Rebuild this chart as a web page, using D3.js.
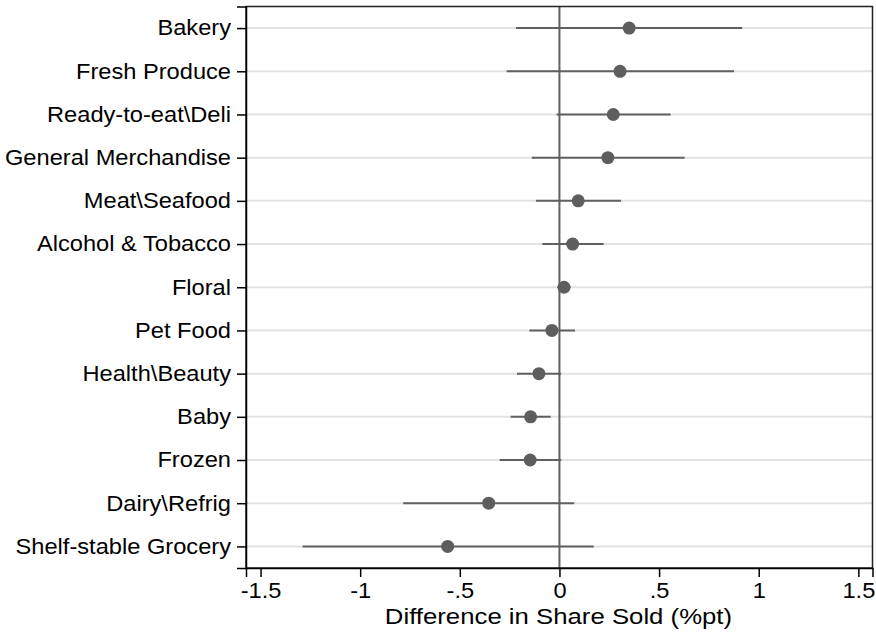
<!DOCTYPE html>
<html>
<head>
<meta charset="utf-8">
<script src="https://cdn.jsdelivr.net/npm/d3@7"></script>
<style>
  body { margin: 0; background: #fff; }
  svg { font-family: Arial, "Liberation Sans", sans-serif; }
</style>
</head>
<body>
<script>
// categories top to bottom
const categories = ['Bakery', 'Fresh Produce', 'Ready-to-eat\\Deli', 'General Merchandise',
  'Meat\\Seafood', 'Alcohol & Tobacco', 'Floral', 'Pet Food', 'Health\\Beauty',
  'Baby', 'Frozen', 'Dairy\\Refrig', 'Shelf-stable Grocery']
// point estimates
const estimates = [0.350, 0.304, 0.270, 0.243, 0.094, 0.066, 0.023, -0.038, -0.103, -0.145, -0.147, -0.355, -0.561]
// confidence interval ends
const lower = [-0.218, -0.265, -0.014, -0.139, -0.118, -0.086, -0.011, -0.151, -0.213, -0.245, -0.300, -0.784, -1.289]
const upper = [0.917, 0.876, 0.558, 0.628, 0.309, 0.222, 0.055, 0.078, 0.008, -0.044, 0.009, 0.074, 0.172]
// x ticks
const xTicks = [-1.5, -1, -0.5, 0, 0.5, 1, 1.5]
const xTickLabels = ['-1.5', '-1', '-.5', '0', '.5', '1', '1.5']

const width = 876
const height = 633
const margin = { top: 6.5, right: 3.5, bottom: 65, left: 246 }
const labelSize = 21.5
// the reference text looks a little wider than plain Arial
const stretch = 1.1

const svg = d3.select('body').append('svg')
  .attr('width', width)
  .attr('height', height)

const x = d3.scaleLinear()
  .domain([-1.573, 1.571])
  .range([margin.left, width - margin.right])

const y = d3.scalePoint()
  .domain(categories)
  .range([margin.top, height - margin.bottom])
  .padding(0.5)

const data = categories.map((c, i) => ({ cat: c, est: estimates[i], lo: lower[i], hi: upper[i] }))

// grid lines
svg.append('g')
  .selectAll('line')
  .data(categories)
  .enter().append('line')
  .attr('x1', margin.left)
  .attr('x2', width - margin.right)
  .attr('y1', d => y(d))
  .attr('y2', d => y(d))
  .attr('stroke', '#e2e2e2')
  .attr('stroke-width', 2)

// zero reference line
svg.append('line')
  .attr('x1', x(0)).attr('x2', x(0))
  .attr('y1', margin.top).attr('y2', height - margin.bottom)
  .attr('stroke', '#5f5f5f')
  .attr('stroke-width', 2)

// CI lines
svg.append('g')
  .selectAll('line')
  .data(data)
  .enter().append('line')
  .attr('x1', d => x(d.lo))
  .attr('x2', d => x(d.hi))
  .attr('y1', d => y(d.cat))
  .attr('y2', d => y(d.cat))
  .attr('stroke', '#606060')
  .attr('stroke-width', 2)

// dots
svg.append('g')
  .selectAll('circle')
  .data(data)
  .enter().append('circle')
  .attr('cx', d => x(d.est))
  .attr('cy', d => y(d.cat))
  .attr('r', 6.5)
  .attr('fill', '#5e5e5e')

// frame
svg.append('rect')
  .attr('x', margin.left)
  .attr('y', margin.top)
  .attr('width', width - margin.right - margin.left)
  .attr('height', height - margin.bottom - margin.top)
  .attr('fill', 'none')
  .attr('stroke', '#222')
  .attr('stroke-width', 1.5)

// y axis
const yAxis = svg.append('g')
  .attr('transform', `translate(${margin.left},0)`)
  .call(d3.axisLeft(y).tickSize(9).tickPadding(6))
yAxis.select('.domain').attr('stroke', '#000').attr('stroke-width', 1.5)
yAxis.selectAll('.tick line').attr('stroke', '#000').attr('stroke-width', 1.5)
yAxis.selectAll('.tick text')
  .attr('font-size', labelSize)
  .attr('fill', '#000')
  .attr('x', -15 / stretch)
  .attr('transform', `scale(${stretch},1)`)
  .style('font-family', 'Arial, "Liberation Sans", sans-serif')

// x axis
const xAxis = svg.append('g')
  .attr('transform', `translate(0,${height - margin.bottom})`)
  .call(d3.axisBottom(x).tickValues(xTicks).tickFormat((d, i) => xTickLabels[i]).tickSize(9).tickPadding(5.7))
xAxis.select('.domain').attr('stroke', '#000').attr('stroke-width', 1.5)
xAxis.selectAll('.tick line').attr('stroke', '#000').attr('stroke-width', 1.5)
xAxis.selectAll('.tick text')
  .attr('font-size', labelSize)
  .attr('fill', '#000')
  .attr('transform', `scale(${stretch},1)`)
  .style('font-family', 'Arial, "Liberation Sans", sans-serif')

// axis title
svg.append('g')
  .attr('transform', `translate(${x(0) - 1},624)`)
  .append('text')
  .attr('text-anchor', 'middle')
  .attr('font-size', 23)
  .attr('fill', '#000')
  .attr('transform', 'scale(1.12,1)')
  .text('Difference in Share Sold (%pt)')
</script>
</body>
</html>
